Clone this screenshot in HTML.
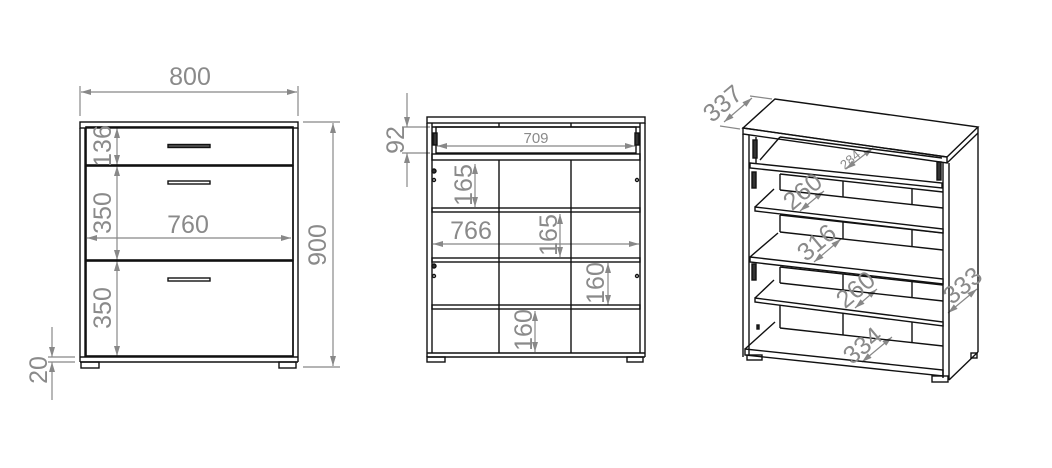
<!DOCTYPE html>
<html><head><meta charset="utf-8"><style>
html,body{margin:0;padding:0;background:#fff;width:1052px;height:468px;overflow:hidden}
svg{display:block}
text{font-family:"Liberation Sans",sans-serif;fill:#8a8a8a}
</style></head><body>
<svg width="1052" height="468" viewBox="0 0 1052 468" xmlns="http://www.w3.org/2000/svg">
<defs>
<marker id="a" viewBox="0 0 10 6" refX="10" refY="3" markerWidth="11" markerHeight="6" orient="auto-start-reverse" markerUnits="userSpaceOnUse">
<path d="M0,0 L10,3 L0,6 z" fill="#888"/></marker>
</defs>
<g stroke="#888" stroke-width="1.2" fill="none">
<line x1="80" y1="86" x2="80" y2="116"/><line x1="298" y1="86" x2="298" y2="116"/>
<line x1="81" y1="92" x2="297" y2="92" marker-start="url(#a)" marker-end="url(#a)"/>
<line x1="303" y1="122" x2="340" y2="122"/><line x1="303" y1="367" x2="340" y2="367"/>
<line x1="333" y1="123" x2="333" y2="366" marker-start="url(#a)" marker-end="url(#a)"/>
<line x1="117" y1="128" x2="117" y2="165" marker-start="url(#a)" marker-end="url(#a)"/>
<line x1="117" y1="166" x2="117" y2="260" marker-start="url(#a)" marker-end="url(#a)"/>
<line x1="117" y1="261" x2="117" y2="356" marker-start="url(#a)" marker-end="url(#a)"/>
<line x1="87" y1="238" x2="291" y2="238" marker-start="url(#a)" marker-end="url(#a)"/>
<line x1="48" y1="357" x2="75" y2="357"/><line x1="48" y1="362" x2="75" y2="362"/>
<line x1="52" y1="327" x2="52" y2="357" marker-end="url(#a)"/>
<line x1="52" y1="400" x2="52" y2="362" marker-end="url(#a)"/>
<line x1="402" y1="127" x2="430" y2="127"/><line x1="402" y1="153" x2="430" y2="153"/>
<line x1="407" y1="93" x2="407" y2="127" marker-end="url(#a)"/>
<line x1="407" y1="187" x2="407" y2="153" marker-end="url(#a)"/>
<line x1="437" y1="146" x2="635" y2="146" marker-start="url(#a)" marker-end="url(#a)"/>
<line x1="475" y1="164" x2="475" y2="207" marker-start="url(#a)" marker-end="url(#a)"/>
<line x1="433" y1="244" x2="639" y2="244" marker-start="url(#a)" marker-end="url(#a)"/>
<line x1="560" y1="214" x2="560" y2="257" marker-start="url(#a)" marker-end="url(#a)"/>
<line x1="608" y1="263" x2="608" y2="305" marker-start="url(#a)" marker-end="url(#a)"/>
<line x1="535" y1="311" x2="535" y2="352" marker-start="url(#a)" marker-end="url(#a)"/>
<line x1="720" y1="126" x2="740" y2="129"/><line x1="750" y1="96" x2="772" y2="99"/>
<line x1="724" y1="122" x2="752" y2="98" marker-start="url(#a)" marker-end="url(#a)"/>
<line x1="846" y1="169" x2="873" y2="148" marker-start="url(#a)" marker-end="url(#a)"/>
<line x1="800" y1="211" x2="824" y2="191" marker-start="url(#a)" marker-end="url(#a)"/>
<line x1="814" y1="262" x2="841" y2="239" marker-start="url(#a)" marker-end="url(#a)"/>
<line x1="855" y1="308" x2="877" y2="289" marker-start="url(#a)" marker-end="url(#a)"/>
<line x1="862" y1="362" x2="892" y2="337" marker-start="url(#a)" marker-end="url(#a)"/>
<line x1="948" y1="313" x2="977" y2="289" marker-start="url(#a)" marker-end="url(#a)"/>
</g>

<g stroke="#111" stroke-width="1.4" fill="none">
<rect x="80" y="122" width="218" height="6"/>
<line x1="80" y1="128" x2="80" y2="362"/><line x1="298" y1="128" x2="298" y2="362"/>
<line x1="85" y1="128" x2="85" y2="357"/><line x1="293" y1="128" x2="293" y2="357"/>
<rect x="86" y="127" width="207" height="38" stroke-width="1.6"/>
<rect x="86" y="166" width="207" height="94" stroke-width="1.6"/>
<rect x="86" y="261" width="207" height="95" stroke-width="1.6"/>
<line x1="80" y1="357" x2="298" y2="357"/><line x1="80" y1="362" x2="298" y2="362"/>
<rect x="81" y="362" width="18" height="6"/><rect x="279" y="362" width="17" height="6"/>
<rect x="168" y="144.5" width="42" height="3" fill="#555"/>
<rect x="168" y="181" width="42" height="3"/>
<rect x="168" y="278" width="42" height="3"/>
<rect x="427" y="117" width="218" height="6"/>
<line x1="427" y1="123" x2="427" y2="357"/><line x1="645" y1="123" x2="645" y2="357"/>
<line x1="432" y1="123" x2="432" y2="353"/><line x1="640" y1="123" x2="640" y2="353"/>
<rect x="436" y="127" width="200" height="26"/>
<line x1="432" y1="127" x2="640" y2="127"/>
<rect x="432" y="154" width="208" height="6"/>
<line x1="499" y1="123" x2="499" y2="127"/><line x1="571" y1="123" x2="571" y2="127"/>
<line x1="499" y1="160" x2="499" y2="353"/><line x1="571" y1="160" x2="571" y2="353"/>
<rect x="432" y="208" width="208" height="4"/>
<rect x="432" y="258" width="208" height="4"/>
<rect x="432" y="305" width="208" height="4"/>
<line x1="427" y1="353" x2="645" y2="353"/><line x1="427" y1="357" x2="645" y2="357"/>
<rect x="427" y="357" width="18" height="5"/><rect x="627" y="357" width="16" height="5"/>
<rect x="433" y="133" width="4" height="12" fill="#333"/><rect x="635" y="133" width="4" height="12" fill="#333"/>
<circle cx="434" cy="171" r="2" fill="#333"/><circle cx="434" cy="180" r="1.5"/>
<circle cx="434" cy="266" r="2" fill="#333"/><circle cx="434" cy="276" r="1.5"/>
<circle cx="637" cy="180" r="1.5"/><circle cx="637" cy="276" r="1.5"/>
<polygon points="743,128 775,99 978,127 947,157"/>
<polygon points="743,128 947,157 947,163 743,134"/>
<line x1="978" y1="127" x2="978" y2="133"/><line x1="947" y1="163" x2="978" y2="133"/>
<line x1="743" y1="134" x2="743" y2="357"/><line x1="749" y1="135" x2="749" y2="355"/>
<line x1="943" y1="163" x2="943" y2="378"/><line x1="949" y1="163" x2="949" y2="380"/>
<line x1="978" y1="133" x2="978" y2="352"/><line x1="949" y1="380" x2="978" y2="352"/>
<polygon points="745,349 943,370 943,376 745,355"/>
<line x1="745" y1="349" x2="775" y2="322"/>
<rect x="747" y="355" width="15" height="5"/><rect x="932" y="376" width="16" height="6"/>
<rect x="971" y="353" width="6" height="5"/>
<line x1="760" y1="160" x2="780" y2="137"/><line x1="780" y1="137" x2="942" y2="158"/>
<polygon points="750,163 942,183 942,188 750,168"/>
<line x1="756" y1="137" x2="756" y2="163"/>
<rect x="753" y="140" width="4" height="18" fill="#333"/><rect x="937" y="162" width="4" height="18" fill="#333"/>
<!-- back panel bands -->
<line x1="780" y1="174" x2="943" y2="192"/><line x1="780" y1="190" x2="943" y2="208"/>
<line x1="780" y1="174" x2="780" y2="190"/><line x1="843" y1="181" x2="843" y2="197"/><line x1="912" y1="189" x2="912" y2="205"/>
<line x1="780" y1="215" x2="943" y2="233"/><line x1="780" y1="232" x2="943" y2="250"/>
<line x1="780" y1="215" x2="780" y2="232"/><line x1="843" y1="222" x2="843" y2="239"/><line x1="912" y1="230" x2="912" y2="247"/>
<line x1="780" y1="267" x2="943" y2="285"/><line x1="780" y1="283" x2="943" y2="301"/>
<line x1="780" y1="267" x2="780" y2="283"/><line x1="843" y1="274" x2="843" y2="290"/><line x1="912" y1="282" x2="912" y2="298"/>
<line x1="780" y1="305" x2="943" y2="323"/><line x1="780" y1="328" x2="943" y2="346"/>
<line x1="780" y1="305" x2="780" y2="328"/><line x1="843" y1="312" x2="843" y2="335"/><line x1="912" y1="320" x2="912" y2="343"/>
<polygon points="755,207 943,229 943,233 755,211" fill="#fff"/><line x1="755" y1="207" x2="774" y2="189"/>
<polygon points="750,257 943,279 943,284 750,262" fill="#fff"/><line x1="750" y1="257" x2="778" y2="233"/>
<polygon points="755,298 943,322 943,326 755,302" fill="#fff"/><line x1="755" y1="298" x2="774" y2="280"/>
<rect x="752" y="172" width="4" height="16" fill="#333"/><rect x="752" y="264" width="4" height="16" fill="#333"/>
<rect x="757" y="325" width="2" height="4" fill="#333"/>
</g>

<g font-size="25">
<text x="190" y="85" text-anchor="middle">800</text>
<text x="188" y="233" text-anchor="middle">760</text>
<text transform="translate(326,245) rotate(-90)" text-anchor="middle">900</text>
<text transform="translate(111,146) rotate(-90)" text-anchor="middle">136</text>
<text transform="translate(111,213) rotate(-90)" text-anchor="middle">350</text>
<text transform="translate(111,308) rotate(-90)" text-anchor="middle">350</text>
<text transform="translate(47,370) rotate(-90)" text-anchor="middle">20</text>
<text transform="translate(404,140) rotate(-90)" text-anchor="middle">92</text>
<text x="471" y="239" text-anchor="middle">766</text>
<text transform="translate(472,185) rotate(-90)" text-anchor="middle">165</text>
<text transform="translate(557,235) rotate(-90)" text-anchor="middle">165</text>
<text transform="translate(604,283) rotate(-90)" text-anchor="middle">160</text>
<text transform="translate(532,330) rotate(-90)" text-anchor="middle">160</text>
<text transform="translate(728,110) rotate(-40)" text-anchor="middle">337</text>
<text transform="translate(808,198) rotate(-40)" text-anchor="middle">260</text>
<text transform="translate(822,249) rotate(-40)" text-anchor="middle">316</text>
<text transform="translate(861,296) rotate(-40)" text-anchor="middle">260</text>
<text transform="translate(868,352) rotate(-40)" text-anchor="middle">334</text>
<text transform="translate(968,292) rotate(-40)" text-anchor="middle">333</text>
</g>
<text x="536" y="143" text-anchor="middle" font-size="15">709</text>
<text transform="translate(853,163) rotate(-40)" text-anchor="middle" font-size="13">284</text>
</svg>
</body></html>
